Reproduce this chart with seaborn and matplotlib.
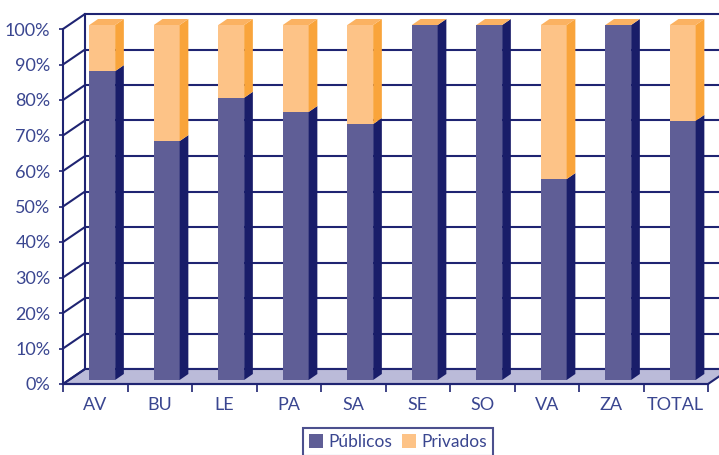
import numpy as np
import pandas as pd
import seaborn as sns
import matplotlib
matplotlib.use("Agg")
import matplotlib.pyplot as plt
from matplotlib.patches import Polygon, Patch
from matplotlib.lines import Line2D
from matplotlib.transforms import IdentityTransform

# ---- data ----
categorias = ["AV", "BU", "LE", "PA", "SA", "SE", "SO", "VA", "ZA", "TOTAL"]
publicos = [87.0, 67.3, 79.5, 75.5, 72.1, 100.0, 100.0, 56.6, 100.0, 73.0]
privados = [13.0, 32.7, 20.5, 24.5, 27.9, 0.0, 0.0, 43.4, 0.0, 27.0]
ticks_y = [0, 10, 20, 30, 40, 50, 60, 70, 80, 90, 100]
series = ["Públicos", "Privados"]

# ---- style ----
C_PUB = "#5F5E96"
C_PUB_SIDE = "#191D69"
C_PRIV = "#FDC387"
C_PRIV_SIDE = "#F9A43B"
C_TOP = "#FBB262"
C_LINE = "#1F2472"
C_TEXT = "#3A4690"
C_FLOOR = "#BBBBD9"

sns.set_theme(style="white")
plt.rcParams["font.family"] = ["Lato", "DejaVu Sans"]

W, H = 719, 455
fig = plt.figure(figsize=(W / 100, H / 100), dpi=100)
fig.patch.set_facecolor("white")

SPAN_X = 645.0   # px for the 10 categories
SPAN_Y = 355.0   # px for 0..100 %


def rect(left, zero_y):
    return [left / W, (H - zero_y) / H, SPAN_X / W, SPAN_Y / H]


# back wall, front plane, bar plane
axb = fig.add_axes(rect(85, 369))
axf = fig.add_axes(rect(63, 384))
ax = fig.add_axes(rect(70, 380))
for a in (axb, axf, ax):
    a.set_xlim(-0.5, len(categorias) - 0.5)
    a.set_ylim(0, 100)
axb.set_zorder(0)
axf.set_zorder(1)
ax.set_zorder(2)
axf.patch.set_alpha(0)
ax.patch.set_alpha(0)
axb.set_facecolor("white")

# back wall
for s in ("right", "bottom"):
    axb.spines[s].set_visible(False)
for s in ("left", "top"):
    axb.spines[s].set_color(C_LINE)
    axb.spines[s].set_linewidth(1.5)
axb.set_xticks([])
axb.set_yticks([])
for v in ticks_y[:-1]:
    axb.axhline(v, color=C_LINE, lw=1.5, zorder=1)

# front axes: ticks and labels
for s in ("right", "top"):
    axf.spines[s].set_visible(False)
for s in ("left", "bottom"):
    axf.spines[s].set_color(C_LINE)
    axf.spines[s].set_linewidth(1.5)
axf.set_yticks(ticks_y)
axf.set_yticklabels([f"{v}%" for v in ticks_y])
axf.tick_params(axis="y", direction="out", length=3, width=1.2, color=C_LINE,
                labelsize=13, pad=6, left=True)
axf.set_xticks(np.arange(len(categorias) + 1) - 0.5)
axf.set_xticklabels([])
axf.set_xticks(np.arange(len(categorias)), minor=True)
axf.set_xticklabels(categorias, minor=True)
axf.tick_params(axis="x", which="major", direction="out", length=6, width=1.2,
                color=C_LINE, bottom=True)
axf.tick_params(axis="x", which="minor", length=0, labelsize=13, pad=9)
for lab in axf.get_xticklabels(minor=True) + axf.get_yticklabels():
    lab.set_color(C_TEXT)
    lab.set_fontweight("normal")

# floor and left wall (connecting front plane with back wall)
fig.canvas.draw()
x0, x1 = -0.5, len(categorias) - 0.5
f0 = axf.transData.transform((x0, 0))
f1 = axf.transData.transform((x1, 0))
b0 = axb.transData.transform((x0, 0))
b1 = axb.transData.transform((x1, 0))
floor = Polygon([f0, f1, b1, b0], closed=True, facecolor=C_FLOOR,
                edgecolor=C_LINE, lw=1.5, transform=IdentityTransform(), zorder=0.5)
fig.add_artist(floor)
for v in ticks_y:
    p = axf.transData.transform((x0, v))
    q = axb.transData.transform((x0, v))
    fig.add_artist(Line2D([p[0], q[0]], [p[1], q[1]], color=C_LINE, lw=1.5,
                          transform=IdentityTransform(), zorder=0.6))

# ---- bars ----
df = pd.DataFrame({"cat": categorias, "pub": publicos,
                   "tot": np.array(publicos) + np.array(privados)})
sns.barplot(data=df, x="cat", y="tot", color=C_PRIV, saturation=1, width=0.4,
            ax=ax, order=categorias, linewidth=0)
sns.barplot(data=df, x="cat", y="pub", color=C_PUB, saturation=1, width=0.4,
            ax=ax, order=categorias, linewidth=0)
ax.set_xlim(x0, x1)
ax.set_ylim(0, 100)
ax.set_xlabel("")
ax.set_ylabel("")
ax.set_xticks([])
ax.set_yticks([])
for s in ax.spines.values():
    s.set_visible(False)

n = len(categorias)
tot_patches = ax.patches[:n]
pub_patches = ax.patches[n:2 * n]
dx = 8.7 / SPAN_X * n
dy = 6.0 / SPAN_Y * 100

for pt, pp in zip(tot_patches, pub_patches):
    x = pp.get_x()
    w = pp.get_width()
    hp = pp.get_height()
    ht = pt.get_height()
    # side faces
    ax.add_patch(Polygon([(x + w, 0), (x + w + dx, dy), (x + w + dx, hp + dy), (x + w, hp)],
                         closed=True, facecolor=C_PUB_SIDE, edgecolor="none", zorder=3))
    if ht > hp:
        ax.add_patch(Polygon([(x + w, hp), (x + w + dx, hp + dy), (x + w + dx, ht + dy), (x + w, ht)],
                             closed=True, facecolor=C_PRIV_SIDE, edgecolor="none", zorder=3))
    # top face
    ax.add_patch(Polygon([(x, ht), (x + dx, ht + dy), (x + w + dx, ht + dy), (x + w, ht)],
                         closed=True, facecolor=C_TOP, edgecolor="none", zorder=3))
for p in ax.patches:
    p.set_clip_on(False)

# ---- legend ----
handles = [Patch(facecolor=C_PUB, edgecolor="none"),
           Patch(facecolor=C_PRIV, edgecolor="none")]
leg = fig.legend(handles, series, loc="upper center", ncol=2,
                 bbox_to_anchor=(398 / W, (H - 428) / H), frameon=True,
                 fancybox=False, fontsize=12.5, handlelength=0.8, handleheight=0.8,
                 handletextpad=0.3, columnspacing=0.6, borderpad=0.35,
                 borderaxespad=0)
leg.get_frame().set_edgecolor(C_LINE)
leg.get_frame().set_linewidth(1.5)
for t in leg.get_texts():
    t.set_color(C_TEXT)

fig.savefig("out.png", dpi=100, facecolor="white")
